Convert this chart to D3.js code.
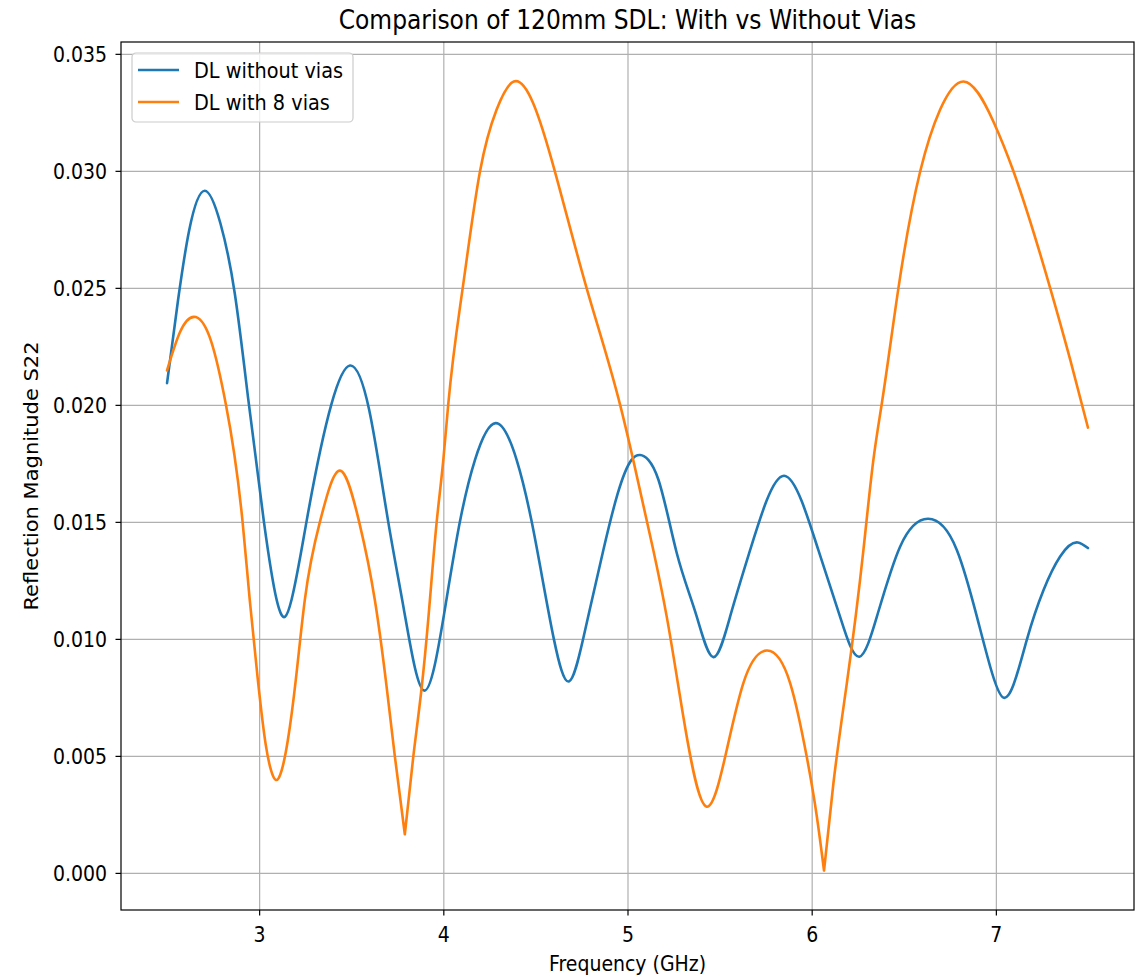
<!DOCTYPE html>
<html><head><meta charset="utf-8">
<script src="https://cdn.jsdelivr.net/npm/d3@7"></script>
<style>
body{margin:0;background:#fff}
svg{display:block}
text{font-family:"DejaVu Sans",sans-serif;fill:#000}
</style>
</head><body>
<svg id="chart" width="1145" height="977"></svg>
<script>
// ---- data ----
const seriesNames = ["DL without vias", "DL with 8 vias"];
const seriesColors = ["#1f77b4", "#ff7f0e"];

const freqNoVias = [2.500,2.560,2.620,2.705,2.790,2.868,2.940,3.026,3.095,3.140,3.176,3.257,3.393,3.493,3.597,3.701,3.785,3.896,4.005,4.090,4.172,4.284,4.398,4.480,4.600,4.682,4.760,4.869,5.022,5.068,5.113,5.168,5.267,5.376,5.466,5.557,5.666,5.755,5.850,5.945,6.036,6.154,6.259,6.354,6.480,6.631,6.788,6.897,6.969,7.041,7.168,7.259,7.349,7.445,7.500];
const s22NoVias  = [0.02093,0.02449,0.02745,0.02915,0.02775,0.02475,0.02030,0.01500,0.01167,0.01094,0.01167,0.01500,0.02004,0.02168,0.01980,0.01500,0.01130,0.00779,0.01110,0.01500,0.01765,0.01922,0.01765,0.01500,0.01000,0.00818,0.01003,0.01380,0.01765,0.01786,0.01765,0.01680,0.01368,0.01095,0.00922,0.01095,0.01380,0.01590,0.01697,0.01590,0.01380,0.01095,0.00924,0.01095,0.01394,0.01513,0.01380,0.01095,0.00882,0.00749,0.00996,0.01209,0.01352,0.01412,0.01388];

const freqVias = [2.500,2.570,2.656,2.740,2.819,2.910,2.949,2.993,3.036,3.064,3.091,3.123,3.156,3.199,3.248,3.330,3.438,3.543,3.628,3.692,3.737,3.791,3.837,3.882,3.918,3.964,4.000,4.027,4.100,4.199,4.289,4.383,4.488,4.606,4.778,4.960,5.031,5.140,5.213,5.303,5.430,5.539,5.629,5.756,5.883,5.973,6.028,6.067,6.118,6.191,6.281,6.335,6.381,6.471,6.589,6.697,6.824,6.987,7.096,7.295,7.404,7.500];
const s22Vias  = [0.02147,0.02310,0.02375,0.02270,0.02004,0.01501,0.01167,0.00825,0.00547,0.00440,0.00397,0.00440,0.00568,0.00825,0.01167,0.01500,0.01719,0.01500,0.01167,0.00796,0.00497,0.00165,0.00497,0.00789,0.01081,0.01500,0.01765,0.02004,0.02470,0.02997,0.03261,0.03382,0.03289,0.02997,0.02499,0.02000,0.01765,0.01380,0.01095,0.00668,0.00283,0.00526,0.00811,0.00950,0.00811,0.00497,0.00241,0.00010,0.00383,0.00811,0.01380,0.01765,0.02007,0.02499,0.02997,0.03261,0.03382,0.03210,0.02997,0.02499,0.02192,0.01903];
const viasCusps = [3.791, 6.067]; // sharp V-shaped minima

const xTickValues = [3, 4, 5, 6, 7];
const yTickValues = [0.000, 0.005, 0.010, 0.015, 0.020, 0.025, 0.030, 0.035];

const titleText = "Comparison of 120mm SDL: With vs Without Vias";
const xLabelText = "Frequency (GHz)";
const yLabelText = "Reflection Magnitude S22";

// ---- layout ----
const plot = {left: 121, top: 42, right: 1134, bottom: 910};
const SX = 0.9; // horizontal glyph compression seen in the reference
const tickFont = 21, titleFont = 26;

const series = [
  {name: seriesNames[0], color: seriesColors[0], pts: freqNoVias.map((f, i) => [f, s22NoVias[i]]), cusps: []},
  {name: seriesNames[1], color: seriesColors[1], pts: freqVias.map((f, i) => [f, s22Vias[i]]), cusps: viasCusps}
];

const allX = series.flatMap(s => s.pts.map(p => p[0]));
const allY = series.flatMap(s => s.pts.map(p => p[1]));
const [x0, x1] = d3.extent(allX), [y0, y1] = d3.extent(allY);
const px = (x1 - x0) * 0.05, py = (y1 - y0) * 0.05;

const x = d3.scaleLinear().domain([x0 - px, x1 + px]).range([plot.left, plot.right]);
const y = d3.scaleLinear().domain([y0 - py, y1 + py]).range([plot.bottom, plot.top]);

const svg = d3.select("#chart");
const pw = plot.right - plot.left, ph = plot.bottom - plot.top;

// grid
svg.append("g")
  .attr("transform", `translate(0,${plot.bottom})`)
  .call(d3.axisBottom(x).tickValues(xTickValues).tickSize(-ph).tickFormat(""))
  .call(g => g.select(".domain").remove())
  .call(g => g.selectAll("line").attr("stroke", "#b0b0b0").attr("stroke-width", 1.2));
svg.append("g")
  .attr("transform", `translate(${plot.left},0)`)
  .call(d3.axisLeft(y).tickValues(yTickValues).tickSize(-pw).tickFormat(""))
  .call(g => g.select(".domain").remove())
  .call(g => g.selectAll("line").attr("stroke", "#b0b0b0").attr("stroke-width", 1.2));

// clip
svg.append("defs").append("clipPath").attr("id", "clip")
  .append("rect").attr("x", plot.left).attr("y", plot.top).attr("width", pw).attr("height", ph);

// natural cubic spline parameterised by x (smooth curve through the sampled points)
function NaturalX(context) { this._context = context; }
NaturalX.prototype = {
  areaStart() {}, areaEnd() {},
  lineStart() { this._x = []; this._y = []; },
  point(px_, py_) { this._x.push(+px_); this._y.push(+py_); },
  lineEnd() {
    const X = this._x, Y = this._y, n = X.length, ctx = this._context;
    if (!n) return;
    ctx.moveTo(X[0], Y[0]);
    if (n === 1) return;
    if (n === 2) { ctx.lineTo(X[1], Y[1]); return; }
    const h = [];
    for (let i = 0; i < n - 1; i++) h.push(X[i + 1] - X[i]);
    const a = [], b = [], c = [], d = [];
    for (let i = 1; i < n - 1; i++) {
      a.push(h[i - 1]); b.push(2 * (h[i - 1] + h[i])); c.push(h[i]);
      d.push(6 * ((Y[i + 1] - Y[i]) / h[i] - (Y[i] - Y[i - 1]) / h[i - 1]));
    }
    const m = b.length;
    for (let i = 1; i < m; i++) { const w = a[i] / b[i - 1]; b[i] -= w * c[i - 1]; d[i] -= w * d[i - 1]; }
    const sol = new Array(m);
    sol[m - 1] = d[m - 1] / b[m - 1];
    for (let i = m - 2; i >= 0; i--) sol[i] = (d[i] - c[i] * sol[i + 1]) / b[i];
    const M = new Array(n).fill(0);
    for (let i = 1; i < n - 1; i++) M[i] = sol[i - 1];
    for (let i = 0; i < n - 1; i++) {
      const hi = h[i], s = (Y[i + 1] - Y[i]) / hi;
      const m0 = s - hi * (2 * M[i] + M[i + 1]) / 6;
      const m1 = s + hi * (M[i] + 2 * M[i + 1]) / 6;
      ctx.bezierCurveTo(X[i] + hi / 3, Y[i] + m0 * hi / 3, X[i + 1] - hi / 3, Y[i + 1] - m1 * hi / 3, X[i + 1], Y[i + 1]);
    }
  }
};
const curveNaturalX = ctx => new NaturalX(ctx);

const line = d3.line().x(d => x(d[0])).y(d => y(d[1])).curve(curveNaturalX);
function pathFor(s) {
  const breaks = s.cusps.map(c => s.pts.findIndex(p => Math.abs(p[0] - c) < 1e-9)).filter(i => i > 0).sort((p, q) => p - q);
  const segs = [];
  let start = 0;
  breaks.forEach(b => { segs.push(s.pts.slice(start, b + 1)); start = b; });
  segs.push(s.pts.slice(start));
  return segs.map(seg => line(seg)).join("");
}
svg.append("g").attr("clip-path", "url(#clip)")
  .selectAll("path").data(series).join("path")
  .attr("d", d => pathFor(d))
  .attr("fill", "none")
  .attr("stroke", d => d.color)
  .attr("stroke-width", 2.6)
  .attr("stroke-linejoin", "round")
  .attr("stroke-linecap", "round");

// axes
const xAxis = svg.append("g")
  .attr("transform", `translate(0,${plot.bottom})`)
  .call(d3.axisBottom(x).tickValues(xTickValues).tickSize(5.5).tickFormat(d3.format("d")));
xAxis.select(".domain").remove();
xAxis.selectAll("line").attr("stroke", "#000").attr("stroke-width", 1.2);
xAxis.selectAll("text")
  .attr("y", 17).attr("dy", "0.71em")
  .attr("font-size", tickFont).attr("font-family", "DejaVu Sans").attr("fill", "#000")
  .attr("transform", `scale(${SX},1)`);

const yAxis = svg.append("g")
  .attr("transform", `translate(${plot.left},0)`)
  .call(d3.axisLeft(y).tickValues(yTickValues).tickSize(5.5).tickFormat(d3.format(".3f")));
yAxis.select(".domain").remove();
yAxis.selectAll("line").attr("stroke", "#000").attr("stroke-width", 1.2);
yAxis.selectAll("text")
  .attr("x", -14 / SX).attr("dy", "0.36em")
  .attr("font-size", tickFont).attr("font-family", "DejaVu Sans").attr("fill", "#000")
  .attr("transform", `scale(${SX},1)`);

// spines
svg.append("rect")
  .attr("x", plot.left).attr("y", plot.top).attr("width", pw).attr("height", ph)
  .attr("fill", "none").attr("stroke", "#000").attr("stroke-width", 1.2);

// title and labels
const cx = (plot.left + plot.right) / 2;
svg.append("text")
  .attr("transform", `translate(${cx},29) scale(${SX},1)`)
  .attr("text-anchor", "middle").attr("font-size", titleFont)
  .text(titleText);
svg.append("text")
  .attr("transform", `translate(${cx},971) scale(${SX},1)`)
  .attr("text-anchor", "middle").attr("font-size", tickFont)
  .text(xLabelText);
svg.append("text")
  .attr("transform", `translate(38,${(plot.top + plot.bottom) / 2}) scale(${SX},1) rotate(-90)`)
  .attr("text-anchor", "middle").attr("font-size", tickFont)
  .text(yLabelText);

// legend
const lg = svg.append("g").attr("transform", "translate(132,53)");
lg.append("rect")
  .attr("width", 221).attr("height", 69).attr("rx", 4).attr("ry", 4)
  .attr("fill", "#fff").attr("fill-opacity", 0.8)
  .attr("stroke", "#cccccc").attr("stroke-width", 1.2);
series.forEach((s, i) => {
  const ly = 17 + i * 32;
  lg.append("line").attr("x1", 6).attr("x2", 47).attr("y1", ly).attr("y2", ly)
    .attr("stroke", s.color).attr("stroke-width", 2.6);
  lg.append("text")
    .attr("transform", `translate(62,${ly}) scale(0.92,1)`)
    .attr("dy", "0.36em").attr("font-size", tickFont)
    .text(s.name);
});
</script>
</body></html>
